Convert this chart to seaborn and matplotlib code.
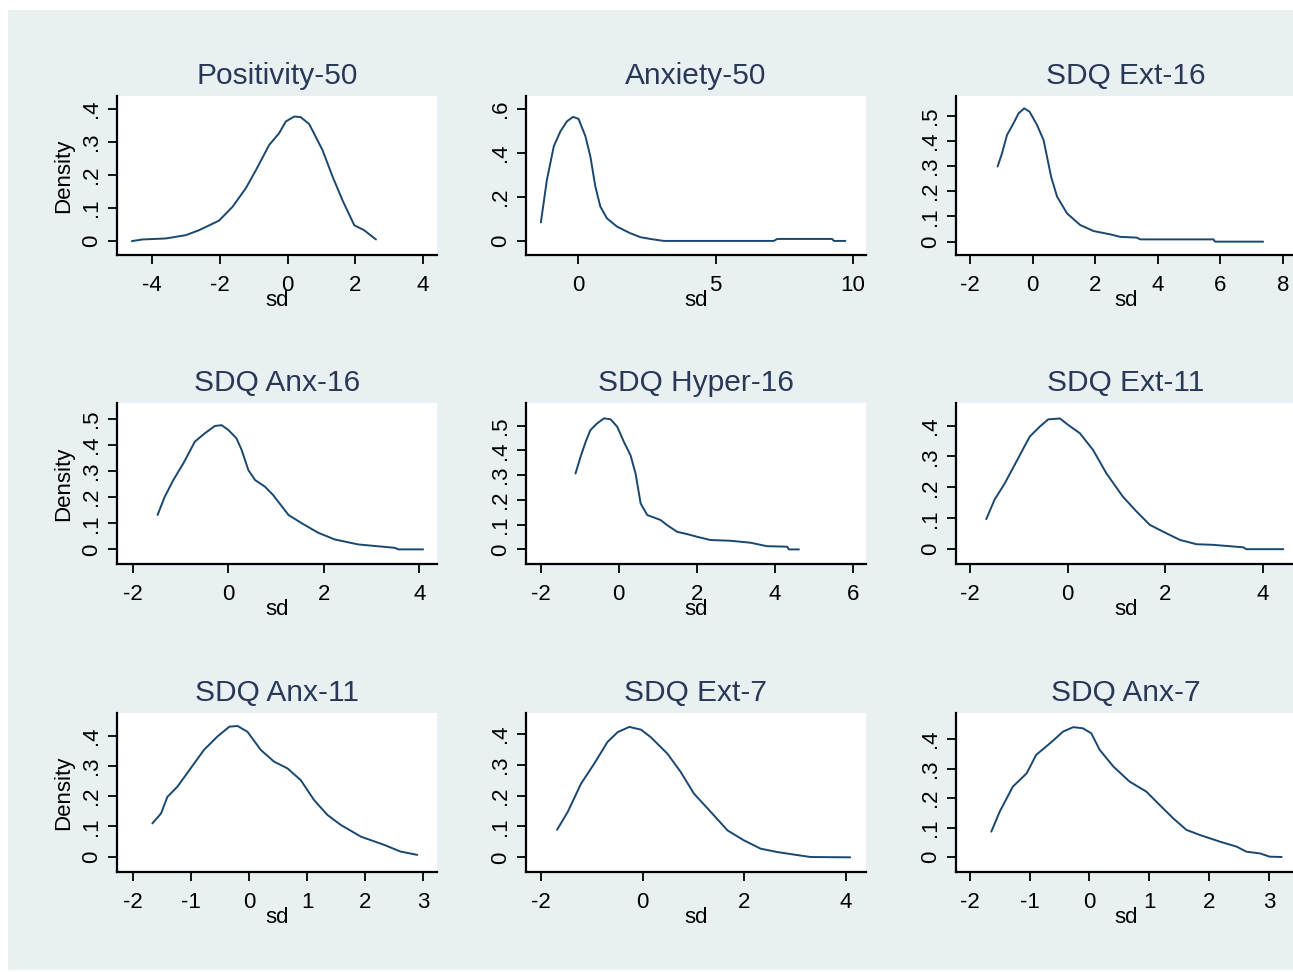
import numpy as np
import pandas as pd
import matplotlib
matplotlib.use("Agg")
import matplotlib.pyplot as plt
import seaborn as sns
from matplotlib.patches import Rectangle

# ---------------- data ----------------
titles = ["Positivity-50", "Anxiety-50", "SDQ Ext-16",
          "SDQ Anx-16", "SDQ Hyper-16", "SDQ Ext-11",
          "SDQ Anx-11", "SDQ Ext-7", "SDQ Anx-7"]

pos50_x = [-4.59, -4.28, -3.59, -3.0, -2.61, -2.02, -1.62, -1.23, -0.93, -0.54, -0.25, -0.05,
           0.20, 0.39, 0.64, 1.03, 1.33, 1.62, 1.97, 2.26, 2.61]
pos50_y = [0.0, 0.005, 0.008, 0.018, 0.033, 0.062, 0.104, 0.16, 0.215, 0.291, 0.326, 0.362,
           0.377, 0.375, 0.354, 0.276, 0.195, 0.124, 0.048, 0.033, 0.005]

anx50_x = [-1.35, -1.13, -0.88, -0.64, -0.40, -0.18, 0.02, 0.27, 0.45, 0.63, 0.81, 1.05, 1.42,
           1.90, 2.27, 2.63, 3.12, 7.12, 7.24, 9.24, 9.30, 9.72]
anx50_y = [0.084, 0.278, 0.43, 0.498, 0.544, 0.564, 0.555, 0.476, 0.384, 0.248, 0.157, 0.103, 0.065,
           0.035, 0.017, 0.009, 0.0, 0.0, 0.009, 0.009, 0.0, 0.0]

ext16_x = [-1.12, -0.98, -0.82, -0.61, -0.45, -0.27, -0.10, 0.14, 0.35, 0.46, 0.59, 0.78, 1.10,
           1.52, 1.95, 2.48, 2.80, 3.33, 3.44, 5.78, 5.83, 7.37]
ext16_y = [0.298, 0.35, 0.423, 0.47, 0.509, 0.529, 0.516, 0.463, 0.403, 0.337, 0.258, 0.179, 0.112,
           0.066, 0.042, 0.029, 0.019, 0.016, 0.009, 0.009, 0.0, 0.0]

anx16_x = [-1.48, -1.33, -1.15, -0.94, -0.70, -0.49, -0.28, -0.14, 0.0, 0.17, 0.28, 0.42, 0.56,
           0.77, 0.94, 1.26, 1.54, 1.88, 2.23, 2.72, 3.07, 3.49, 3.56, 4.08]
anx16_y = [0.132, 0.202, 0.266, 0.33, 0.413, 0.445, 0.473, 0.476, 0.458, 0.426, 0.381, 0.304, 0.266,
           0.24, 0.208, 0.132, 0.10, 0.064, 0.038, 0.019, 0.013, 0.006, 0.0, 0.0]

hyp16_x = [-1.11, -0.98, -0.85, -0.73, -0.56, -0.38, -0.21, -0.04, 0.13, 0.30, 0.43, 0.56, 0.73,
           1.07, 1.24, 1.50, 1.75, 2.01, 2.35, 2.86, 3.38, 3.80, 4.32, 4.36, 4.62]
hyp16_y = [0.307, 0.375, 0.435, 0.482, 0.509, 0.53, 0.526, 0.496, 0.435, 0.381, 0.307, 0.186, 0.139,
           0.119, 0.098, 0.071, 0.062, 0.051, 0.038, 0.035, 0.027, 0.013, 0.011, 0.0, 0.0]

ext11_x = [-1.67, -1.50, -1.29, -1.05, -0.78, -0.57, -0.40, -0.16, 0.01, 0.25, 0.52, 0.79, 1.13,
           1.41, 1.68, 1.95, 2.30, 2.64, 2.98, 3.60, 3.66, 4.42]
ext11_y = [0.097, 0.16, 0.213, 0.284, 0.364, 0.397, 0.42, 0.423, 0.402, 0.375, 0.321, 0.246, 0.17,
           0.122, 0.079, 0.057, 0.03, 0.016, 0.014, 0.006, 0.0, 0.0]

anx11_x = [-1.67, -1.52, -1.41, -1.24, -1.01, -0.78, -0.55, -0.34, -0.20, -0.03, 0.20, 0.43, 0.66,
           0.89, 1.12, 1.35, 1.58, 1.93, 2.33, 2.61, 2.90]
anx11_y = [0.11, 0.143, 0.198, 0.231, 0.292, 0.353, 0.397, 0.43, 0.432, 0.413, 0.353, 0.314, 0.292,
           0.253, 0.187, 0.138, 0.105, 0.066, 0.039, 0.017, 0.006]

ext7_x = [-1.68, -1.47, -1.21, -0.95, -0.69, -0.49, -0.26, -0.03, 0.16, 0.49, 0.75, 1.01, 1.34,
          1.67, 1.99, 2.32, 2.65, 2.97, 3.30, 4.08]
ext7_y = [0.089, 0.147, 0.238, 0.303, 0.373, 0.405, 0.422, 0.413, 0.389, 0.335, 0.276, 0.206, 0.147,
          0.087, 0.055, 0.028, 0.017, 0.009, 0.001, 0.0]

anx7_x = [-1.64, -1.50, -1.28, -1.05, -0.89, -0.66, -0.44, -0.27, -0.11, 0.03, 0.17, 0.40, 0.67,
          0.95, 1.17, 1.40, 1.62, 1.84, 2.18, 2.46, 2.62, 2.85, 3.01, 3.21]
anx7_y = [0.086, 0.154, 0.239, 0.284, 0.347, 0.386, 0.426, 0.441, 0.437, 0.42, 0.364, 0.307, 0.256,
          0.222, 0.177, 0.131, 0.092, 0.075, 0.052, 0.035, 0.018, 0.012, 0.001, 0.0]

xticks_list = [[-4, -2, 0, 2, 4], [0, 5, 10], [-2, 0, 2, 4, 6, 8],
               [-2, 0, 2, 4], [-2, 0, 2, 4, 6], [-2, 0, 2, 4],
               [-2, -1, 0, 1, 2, 3], [-2, 0, 2, 4], [-2, -1, 0, 1, 2, 3]]
yticks_list = [[0, .1, .2, .3, .4], [0, .2, .4, .6], [0, .1, .2, .3, .4, .5],
               [0, .1, .2, .3, .4, .5], [0, .1, .2, .3, .4, .5], [0, .1, .2, .3, .4],
               [0, .1, .2, .3, .4], [0, .1, .2, .3, .4], [0, .1, .2, .3, .4]]

xlabel_text = "sd"
ylabel_text = "Density"

series = [(pos50_x, pos50_y), (anx50_x, anx50_y), (ext16_x, ext16_y),
          (anx16_x, anx16_y), (hyp16_x, hyp16_y), (ext11_x, ext11_y),
          (anx11_x, anx11_y), (ext7_x, ext7_y), (anx7_x, anx7_y)]

# ---------------- layout ----------------
W, H = 1293, 972
cols_px = [(117, 437), (526, 866), (956, 1296)]
rows_px = [(96, 255), (403, 564), (713, 872)]
xlims = [(-5.03, 4.41), (-1.89, 10.47), (-2.45, 8.42),
         (-2.33, 4.37), (-2.38, 6.34), (-2.29, 4.68),
         (-2.28, 3.24), (-2.29, 4.39), (-2.23, 3.45)]
ylims = [(-0.042, 0.439), (-0.064, 0.659), (-0.053, 0.578),
         (-0.056, 0.561), (-0.059, 0.592), (-0.048, 0.473),
         (-0.0506, 0.475), (-0.0475, 0.467), (-0.051, 0.489)]

NAVY = "#1A476F"
BG = "#E8F0F2"
TITLE_C = "#2A3858"

sns.set_theme(style="white")
plt.rcParams["font.family"] = ["Liberation Sans", "DejaVu Sans"]

fig = plt.figure(figsize=(W / 100, H / 100), dpi=100)
fig.patch.set_facecolor("white")
fig.add_artist(Rectangle((8 / W, 1 - 970 / H), (W - 8) / W, 960 / H,
                         transform=fig.transFigure, facecolor=BG,
                         edgecolor="none", zorder=0))


def fmt(v):
    if v == 0:
        return "0"
    if float(v).is_integer():
        return str(int(v))
    return f"{v:.1f}".replace("0.", ".")


for i, (xs, ys) in enumerate(series):
    r, c = divmod(i, 3)
    l, rr = cols_px[c]
    t, b = rows_px[r]
    ax = fig.add_axes([l / W, 1 - b / H, (rr - l) / W, (b - t) / H])
    ax.set_facecolor("white")
    df = pd.DataFrame({"sd": xs, "density": ys})
    sns.lineplot(data=df, x="sd", y="density", ax=ax, color=NAVY,
                 linewidth=1.4, sort=False, estimator=None)
    ax.set_xlim(*xlims[i])
    ax.set_ylim(*ylims[i])
    ax.set_xticks(xticks_list[i])
    ax.set_xticklabels([fmt(v) for v in xticks_list[i]])
    ax.set_yticks(yticks_list[i])
    ax.set_yticklabels([fmt(v) for v in yticks_list[i]])
    for s in ["top", "right"]:
        ax.spines[s].set_visible(False)
    for s in ["left", "bottom"]:
        ax.spines[s].set_color("black")
        ax.spines[s].set_linewidth(1.6)
    ax.tick_params(axis="both", direction="out", length=6.5, width=1.3,
                   colors="black", labelsize=16, labelcolor="black")
    ax.tick_params(axis="x", pad=8, bottom=True)
    ax.tick_params(axis="y", pad=4, labelrotation=90, left=True)
    for lbl in ax.get_yticklabels():
        lbl.set_va("center")
    ax.grid(False)

    ax.set_title(titles[i], fontsize=21.5, color=TITLE_C, pad=8.6)

    h_px = b - t
    w_px = rr - l
    ax.set_xlabel(xlabel_text, fontsize=16, color="black")
    ax.xaxis.set_label_coords(0.5, -51 / h_px)
    ax.xaxis.label.set_va("baseline")
    if c == 0:
        ax.set_ylabel(ylabel_text, fontsize=16, color="black")
        ax.yaxis.set_label_coords(-53 / w_px, 0.5)
        ax.yaxis.label.set_va("center")
    else:
        ax.set_ylabel("")

fig.savefig("out.png", dpi=100, facecolor=fig.get_facecolor())
